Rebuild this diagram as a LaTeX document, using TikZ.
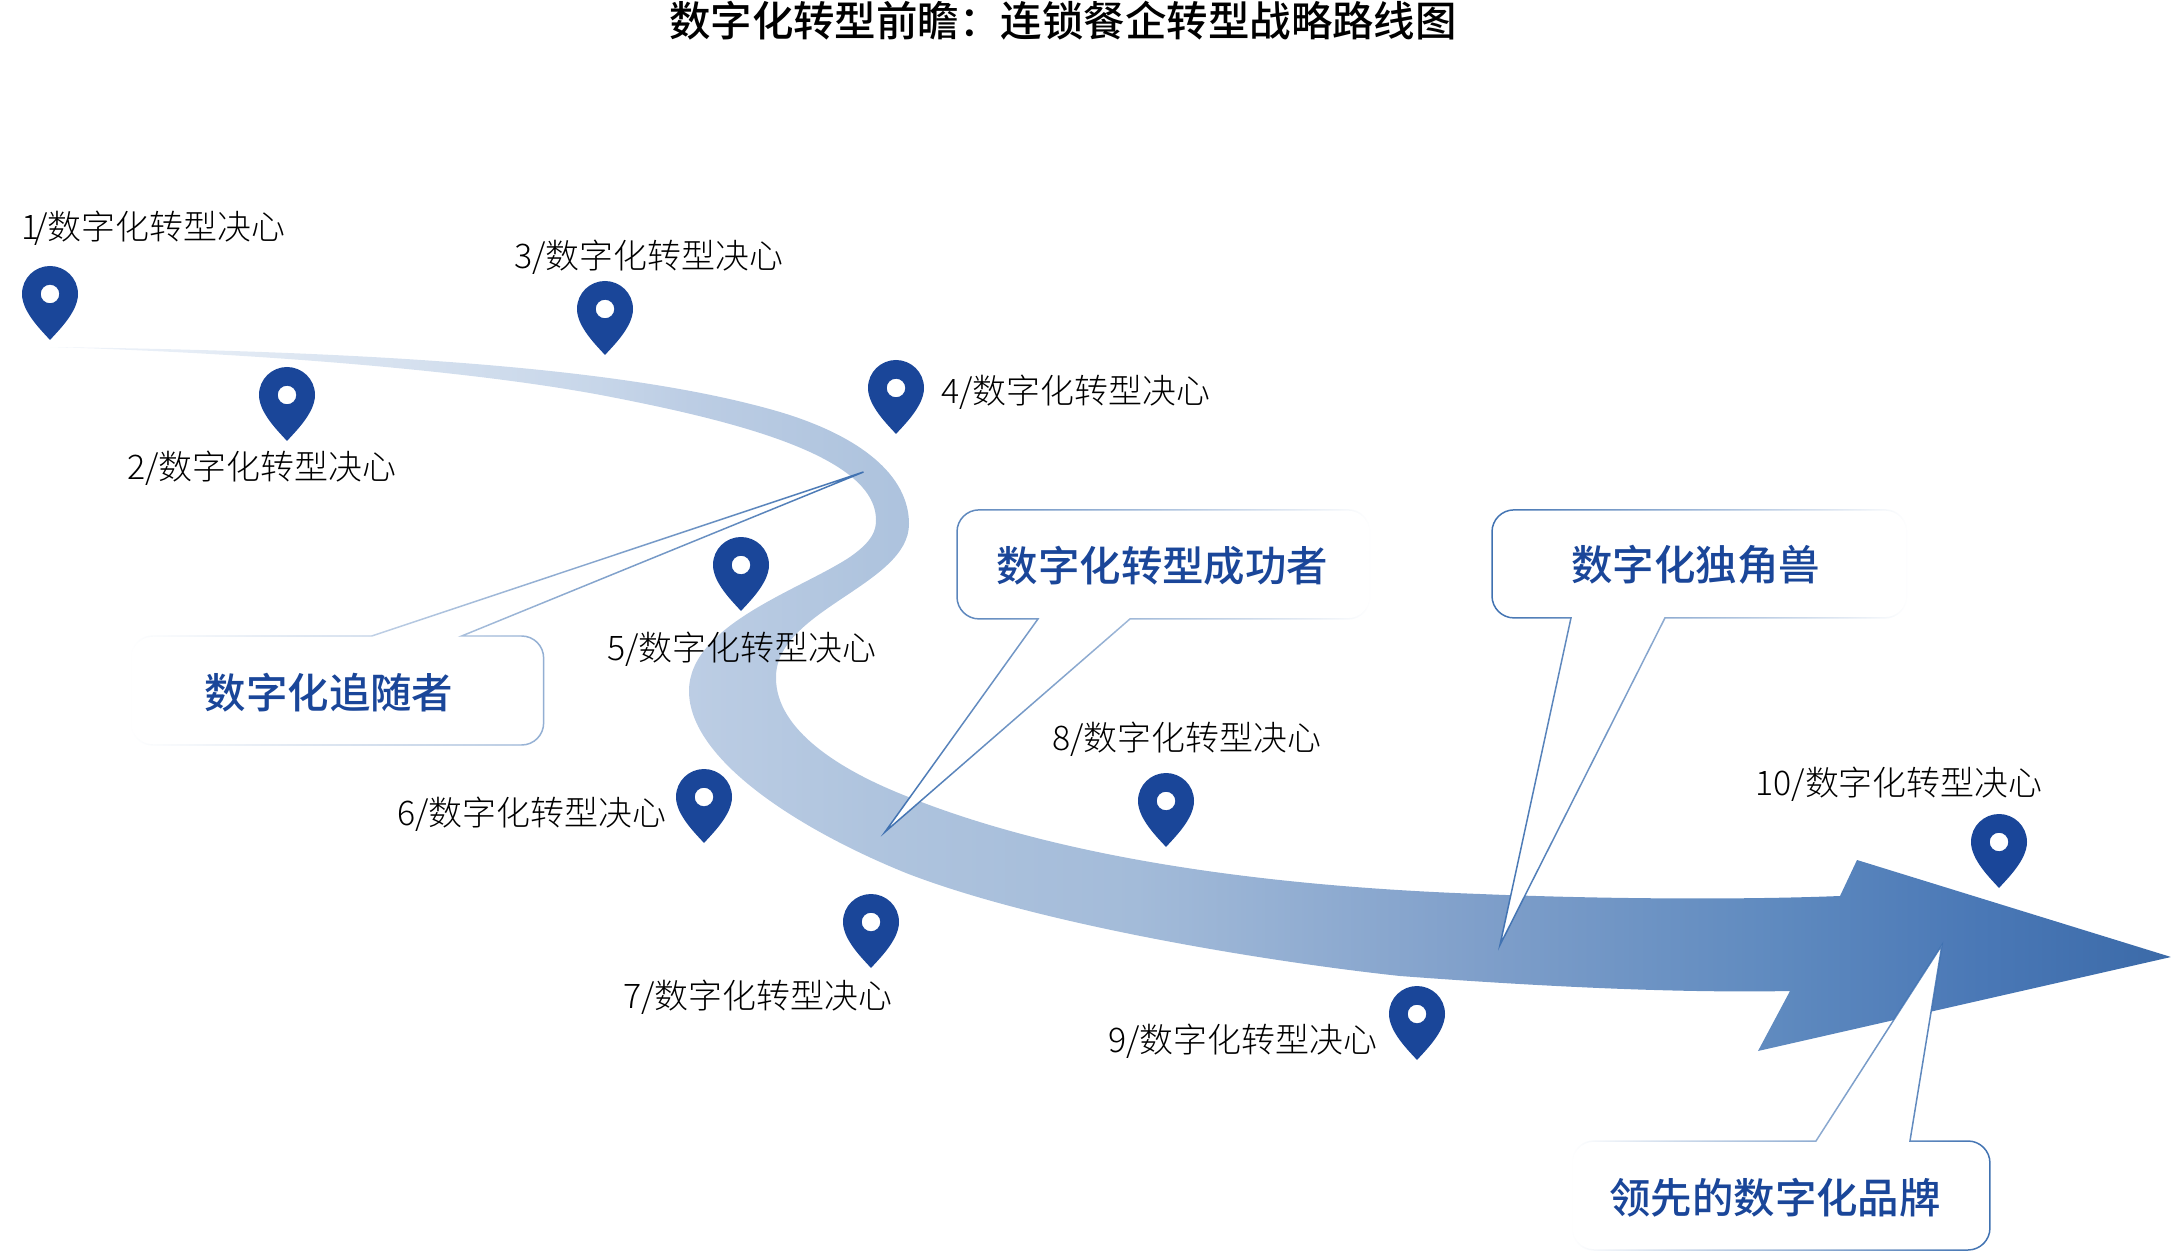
\documentclass[tikz,border=0pt]{standalone}
\usepackage{fontspec}
\usetikzlibrary{fadings}
\setmainfont{Noto Sans CJK SC}
\newfontfamily\cjklight{Noto Sans CJK SC Light}
\newfontfamily\cjkmed{Noto Sans CJK SC Medium}
\definecolor{pinblue}{HTML}{1A4699}
\definecolor{edgeblue}{HTML}{3F71B1}
\definecolor{ra}{HTML}{F0F4FA}
\definecolor{rb}{HTML}{E2EAF4}
\definecolor{rc}{HTML}{C7D6E9}
\definecolor{rd}{HTML}{BCCDE4}
\definecolor{re}{HTML}{AFC4DE}
\definecolor{rf}{HTML}{A3BBD9}
\definecolor{rg}{HTML}{7F9FCA}
\definecolor{rh}{HTML}{5F8ABF}
\definecolor{ri}{HTML}{4A78B6}
\definecolor{rj}{HTML}{3B6AA8}
\pgfdeclarehorizontalshading{ribbonshade}{100bp}{%
color(0bp)=(ra); color(25bp)=(ra); color(29.5bp)=(rb); color(37.9bp)=(rc);
color(40.1bp)=(rd); color(44.4bp)=(re); color(50.6bp)=(rf); color(58.7bp)=(rg);
color(65.7bp)=(rh); color(70.5bp)=(ri); color(75bp)=(rj); color(100bp)=(rj)}
\tikzfading[name=fadeleft, left color=transparent!100, middle color=transparent!25, right color=transparent!0]
\tikzfading[name=faderight, left color=transparent!0, middle color=transparent!25, right color=transparent!100]
\tikzset{
  x=0.02cm, y=-0.02cm,
  mark label/.style={font=\cjklight\fontsize{19.3pt}{22pt}\selectfont, text=black, inner sep=0pt},
  bubble text/.style={font=\cjkmed\fontsize{23.6pt}{28pt}\selectfont, text=pinblue, inner sep=0pt},
  title text/.style={font=\cjkmed\fontsize{23.6pt}{28pt}\selectfont, text=black, inner sep=0pt},
  bubble edge/.style={draw=edgeblue, line width=0.85pt, line join=miter},
}
% pin: tip at the given point
\newcommand{\mappin}[2]{%
  \fill[pinblue, even odd rule, shift={(#1,#2)}]
    (0,0) .. controls (-8,-9) and (-28,-28) .. (-28,-46)
    .. controls (-28,-62) and (-15,-74) .. (0,-74)
    .. controls (15,-74) and (28,-62) .. (28,-46)
    .. controls (28,-28) and (8,-9) .. (0,0) -- cycle
    (9.3,-46) .. controls (9.3,-51.1) and (5.1,-55.3) .. (0,-55.3)
    .. controls (-5.1,-55.3) and (-9.3,-51.1) .. (-9.3,-46)
    .. controls (-9.3,-40.9) and (-5.1,-36.7) .. (0,-36.7)
    .. controls (5.1,-36.7) and (9.3,-40.9) .. (9.3,-46) -- cycle;}
\begin{document}
\begin{tikzpicture}
\useasboundingbox (0,0) rectangle (2171,1253);
% ribbon arrow
\shade[shading=ribbonshade, shading angle=0]
  (50,347) .. controls (350,351) and (620,365) .. (780,412)
  .. controls (860,436) and (909,475) .. (909,524)
  .. controls (909,585) and (775,610) .. (776,678)
  .. controls (776,730) and (840,770) .. (906,796)
  .. controls (1040,850) and (1230,885) .. (1480,894)
  .. controls (1600,899) and (1740,900) .. (1840,896)
  -- (1857,860) -- (2171,957) -- (1758,1051) -- (1790,991)
  .. controls (1690,993) and (1560,988) .. (1400,976)
  .. controls (1270,962) and (1040,925) .. (906,873)
  .. controls (800,830) and (689,760) .. (689,691)
  .. controls (689,625) and (800,590) .. (850,557)
  .. controls (873,541) and (876,530) .. (876,520)
  .. controls (876,455) and (730,420) .. (606,396)
  .. controls (470,370) and (250,353) .. (50,347)
  -- cycle;
% callout A
\def\calloutA{(864,472) -- (462,636) [rounded corners=0.44cm] -- (544,636) -- (544,745) -- (131,745) -- (131,636) [sharp corners] -- (372,636) -- cycle}
\fill[white] \calloutA;
\path[bubble edge, path fading=fadeleft] \calloutA;
\node[bubble text] (followers) at (329,693) {数字化追随者};
% callout B
\def\calloutB{(885,832) -- (1038,619) [rounded corners=0.44cm] -- (957,619) -- (957,510) -- (1370,510) -- (1370,619) [sharp corners] -- (1130,619) -- cycle}
\fill[white] \calloutB;
\path[bubble edge, path fading=faderight] \calloutB;
\node[bubble text] (winners) at (1162.5,566) {数字化转型成功者};
% callout C
\def\calloutC{(1500,945) -- (1571,618) [rounded corners=0.44cm] -- (1492,618) -- (1492,510) -- (1907,510) -- (1907,618) [sharp corners] -- (1665,618) -- cycle}
\fill[white] \calloutC;
\path[bubble edge, path fading=faderight] \calloutC;
\node[bubble text] (unicorns) at (1695.7,565) {数字化独角兽};
% callout D
\def\calloutD{(1942,945) -- (1910,1141) [rounded corners=0.44cm] -- (1990,1141) -- (1990,1250) -- (1572,1250) -- (1572,1141) [sharp corners] -- (1816,1141) -- cycle}
\fill[white] \calloutD;
\path[bubble edge, path fading=fadeleft] \calloutD;
\node[bubble text] (leaders) at (1775,1198) {领先的数字化品牌};
% title
\node[title text] (title) at (1063,21) {数字化转型前瞻：连锁餐企转型战略路线图};
% pins
\mappin{50}{340}
\mappin{287}{441}
\mappin{605}{355}
\mappin{896}{434}
\mappin{741}{611}
\mappin{704}{843}
\mappin{871}{968}
\mappin{1166}{847}
\mappin{1417}{1060}
\mappin{1999}{888}
% labels
\node[mark label, anchor=west] (l1) at (21,228) {1\kern-0.15em/数字化转型决心};
\node[mark label, anchor=west] (l2) at (127,468) {2/数字化转型决心};
\node[mark label, anchor=west] (l3) at (514,257) {3/数字化转型决心};
\node[mark label, anchor=west] (l4) at (941,392) {4/数字化转型决心};
\node[mark label, anchor=west] (l5) at (607,649) {5/数字化转型决心};
\node[mark label, anchor=west] (l6) at (397,814) {6/数字化转型决心};
\node[mark label, anchor=west] (l7) at (623,997) {7/数字化转型决心};
\node[mark label, anchor=west] (l8) at (1052,739) {8/数字化转型决心};
\node[mark label, anchor=west] (l9) at (1108,1041) {9/数字化转型决心};
\node[mark label, anchor=west] (l10) at (1755,784) {10/数字化转型决心};
\end{tikzpicture}
\end{document}
